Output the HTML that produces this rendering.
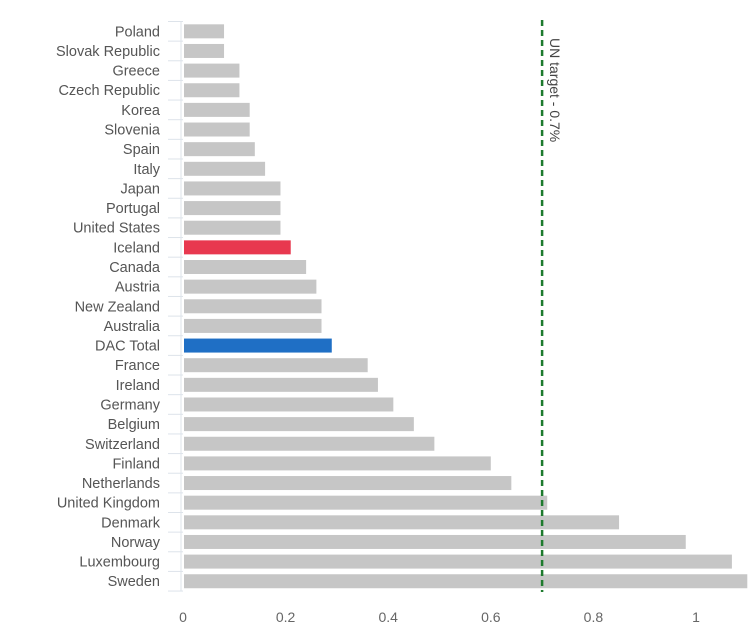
<!DOCTYPE html>
<html><head><meta charset="utf-8"><style>
body{margin:0;background:#fff;}
svg{display:block;font-family:"Liberation Sans",sans-serif;}
</style></head><body>
<svg id="chart" width="755" height="640"></svg>
<script>
const categories=["Poland","Slovak Republic","Greece","Czech Republic","Korea","Slovenia","Spain","Italy","Japan","Portugal","United States","Iceland","Canada","Austria","New Zealand","Australia","DAC Total","France","Ireland","Germany","Belgium","Switzerland","Finland","Netherlands","United Kingdom","Denmark","Norway","Luxembourg","Sweden"];
const values=[0.08,0.08,0.11,0.11,0.13,0.13,0.14,0.16,0.19,0.19,0.19,0.21,0.24,0.26,0.27,0.27,0.29,0.36,0.38,0.41,0.45,0.49,0.6,0.64,0.71,0.85,0.98,1.07,1.1];
const tickValues=[0,0.2,0.4,0.6,0.8,1];
const tickLabels=["0","0.2","0.4","0.6","0.8","1"];
const targetValue=0.7;
const targetLabel="UN target - 0.7%";
const NS="http://www.w3.org/2000/svg";
const svg=document.getElementById('chart');
const x0=183,xs=513,yTop=21.5,step=19.64,bh=14;
const X=v=>x0+v*xs;
const Y=i=>yTop+i*step;
function mk(t,a){const e=document.createElementNS(NS,t);for(const k in a)e.setAttribute(k,a[k]);svg.appendChild(e);return e;}
const axis=mk('line',{x1:181,x2:181,y1:yTop,y2:Y(categories.length),stroke:'#dde3ea','stroke-width':1});


for(let i=0;i<=categories.length;i++){
 const t=mk('line',{x1:168,x2:183,y1:Y(i),y2:Y(i),stroke:'#dde3ea','stroke-width':1});
 
 
}
categories.forEach((c,i)=>{
 const col=c==="Iceland"?'#e8384f':c==="DAC Total"?'#1f6fc5':'#c6c6c6';
 const r=mk('rect',{x:x0+1,y:Y(i)+(step-bh)/2,width:Math.max(0,X(values[i])-x0-1),height:bh,fill:col});
 
 
 const t=mk('text',{x:160,y:Y(i)+step/2+5,'text-anchor':'end','font-size':14.5,fill:'#555'});
 t.textContent=c;
 
 
});
tickValues.forEach((v,i)=>{
 const t=mk('text',{x:X(v),y:622,'text-anchor':'middle','font-size':14,fill:'#666'});
 t.textContent=tickLabels[i];
 
 
});
const tl=mk('line',{x1:X(targetValue),x2:X(targetValue),y1:20,y2:592,stroke:'#1e7b2e','stroke-width':2.5,'stroke-dasharray':'6,4'});


const lt=mk('text',{x:X(targetValue)+8,y:38,'font-size':14,fill:'#444',transform:`rotate(90 ${X(targetValue)+8} 38)`});
lt.textContent=targetLabel;


</script>
</body></html>
